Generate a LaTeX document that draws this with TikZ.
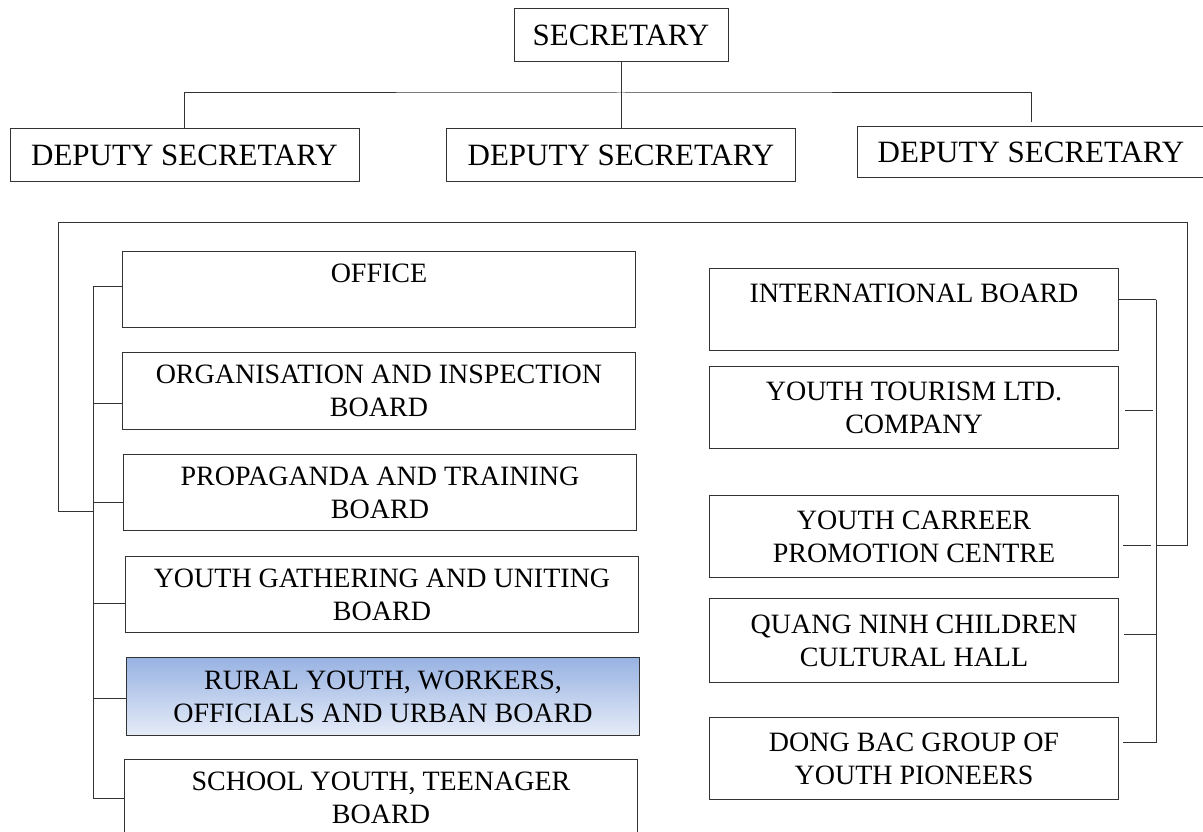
\documentclass[tikz,border=0pt]{standalone}
\usepackage{fontspec}
\setmainfont{Liberation Serif}
\usepackage{tikz}

\definecolor{ruraltop}{RGB}{152,178,226}
\definecolor{ruralbot}{RGB}{230,236,248}

\tikzset{
  chief/.style={draw=black!80, line width=1pt, inner sep=0pt, minimum height=53pt,
    font=\fontsize{31}{36}\selectfont},
  unit/.style={draw=black!80, line width=1pt, inner sep=0pt, minimum width=513pt,
    minimum height=77pt, align=center, anchor=north west, font=\fontsize{28}{33}\selectfont},
  side/.style={unit, minimum width=409pt, minimum height=82pt},
  link/.style={draw=black!80, line width=1pt},
}

\begin{document}
\begin{tikzpicture}[x=1pt, y=-1pt]
            \useasboundingbox (0,0) rectangle (1203,832);

            \node[chief, minimum width=214pt] (sec)  at (621,35.5)  {SECRETARY};
            \node[chief, minimum width=349pt] (dep1) at (184.5,155) {DEPUTY SECRETARY};
            \node[chief, minimum width=349pt] (dep2) at (621,155.5) {DEPUTY SECRETARY};
            \node[chief, minimum width=348pt, minimum height=51pt] (dep3) at (1031,152.5) {DEPUTY SECRETARY};

            \node[unit, minimum height=76pt] (office) at (122,251) {OFFICE\\~};
            \node[unit]                      (org)    at (122,352) {ORGANISATION AND INSPECTION\\BOARD};
            \node[unit, minimum height=76pt] (prop)   at (123,454) {PROPAGANDA AND TRAINING\\BOARD};
            \node[unit, minimum height=76pt] (gather) at (125,556) {YOUTH GATHERING AND UNITING\\BOARD};
            \node[unit, minimum height=78pt, top color=ruraltop, bottom color=ruralbot]
                                             (rural)  at (126,657) {RURAL YOUTH, WORKERS,\\OFFICIALS AND URBAN BOARD};
            \node[unit]                      (school) at (124,759) {SCHOOL YOUTH, TEENAGER\\BOARD};

            \node[side]                      (intl)    at (709,268) {INTERNATIONAL BOARD\\~};
            \node[side]                      (tour)    at (709,366) {YOUTH TOURISM LTD.\\COMPANY};
            \node[side]                      (career)  at (709,495) {YOUTH CARREER\\PROMOTION CENTRE};
            \node[side, minimum height=84pt] (quang)   at (709,598) {QUANG NINH CHILDREN\\CULTURAL HALL};
            \node[side]                      (dongbac) at (709,717) {DONG BAC GROUP OF\\YOUTH PIONEERS};

            \coordinate (bus)   at (621,93);
            \coordinate (lbus)  at (93,286);
            \coordinate (rbus)  at (1156,299);
            \coordinate (ltop)  at (58,222);
            \coordinate (rtop)  at (1187,222);
            \coordinate (ljoin) at (93,511);
            \coordinate (rjoin) at (1156,545);

            \draw[link] (sec) -- (dep2);
            \draw[link, shorten >=4pt] (dep1.north) |- (bus) -| (dep3.north);

            \draw[link] (rjoin) -| (rtop) -- (ltop) |- (ljoin);

            \draw[link] ([yshift=3pt]office.west -| lbus) -- (school.west -| lbus);
            \foreach \b/\s in {office/3,org/-12.5,prop/-10,gather/-9,rural/-2,school/0}
                \draw[link] ([yshift=\s pt]\b.west) -- ([yshift=\s pt]\b.west -| lbus);

            \draw[link] ([yshift=10pt]intl.east -| rbus) -- ([yshift=16pt]dongbac.east -| rbus);
            \draw[link] ([yshift=10pt]intl.east) -- ([yshift=10pt]intl.east -| rbus);
            \draw[link, shorten <=6pt, shorten >=3pt] ([yshift=-3pt]tour.east) -- ([yshift=-3pt]tour.east -| rbus);
            \draw[link, shorten <=4pt, shorten >=5pt] ([yshift=-9pt]career.east) -- ([yshift=-9pt]career.east -| rbus);
            \draw[link, shorten <=5pt] ([yshift=6pt]quang.east) -- ([yshift=6pt]quang.east -| rbus);
            \draw[link, shorten <=4pt] ([yshift=16pt]dongbac.east) -- ([yshift=16pt]dongbac.east -| rbus);
\end{tikzpicture}
\end{document}
